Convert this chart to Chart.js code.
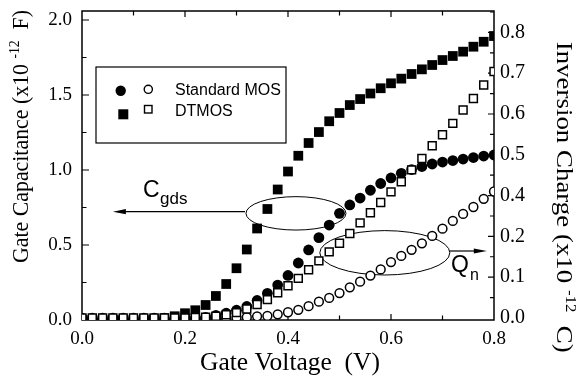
<!DOCTYPE html>
<html>
<head>
<meta charset="utf-8">
<script src="https://cdn.jsdelivr.net/npm/chart.js@4.4.1/dist/chart.umd.min.js"></script>
<style>
  html, body { margin: 0; padding: 0; background: #fff; }
</style>
</head>
<body>
<canvas id="chart" width="584" height="378"></canvas>
<script>
// gate voltage (V), one point every 20 mV
const gateVoltage = [0.00, 0.02, 0.04, 0.06, 0.08, 0.10, 0.12, 0.14, 0.16, 0.18,
  0.20, 0.22, 0.24, 0.26, 0.28, 0.30, 0.32, 0.34, 0.36, 0.38,
  0.40, 0.42, 0.44, 0.46, 0.48, 0.50, 0.52, 0.54, 0.56, 0.58,
  0.60, 0.62, 0.64, 0.66, 0.68, 0.70, 0.72, 0.74, 0.76, 0.78, 0.80];

// gate capacitance C_gds (x10^-12 F), left axis
const cgdsStandard = [0, 0, 0, 0, 0, 0, 0, 0, 0, 0.003,
  0.005, 0.01, 0.018, 0.03, 0.045, 0.065, 0.09, 0.13, 0.178, 0.233,
  0.297, 0.38, 0.467, 0.549, 0.633, 0.711, 0.767, 0.813, 0.865, 0.91,
  0.947, 0.978, 1.003, 1.023, 1.04, 1.053, 1.063, 1.073, 1.083, 1.093, 1.10];
const cgdsDTMOS = [0, 0, 0, 0, 0, 0, 0.002, 0.005, 0.012, 0.025,
  0.045, 0.065, 0.10, 0.16, 0.24, 0.345, 0.47, 0.61, 0.74, 0.87,
  0.99, 1.095, 1.18, 1.253, 1.325, 1.38, 1.433, 1.473, 1.51, 1.545,
  1.578, 1.609, 1.64, 1.671, 1.70, 1.733, 1.76, 1.789, 1.822, 1.855, 1.893];

// inversion charge Q_n, right axis; read as 0.1 per tick spacing
// (the printed right axis skips the 0.3 label)
const qnStandard = [0, 0, 0, 0, 0, 0, 0, 0, 0, 0,
  0, 0, 0, 0, 0, 0.001, 0.002, 0.004, 0.005, 0.009,
  0.014, 0.02, 0.029, 0.04, 0.049, 0.061, 0.075, 0.089, 0.104, 0.119,
  0.137, 0.152, 0.167, 0.183, 0.201, 0.219, 0.238, 0.255, 0.272, 0.292, 0.31];
const qnDTMOS = [0, 0, 0, 0, 0, 0, 0, 0, 0, 0,
  0, 0.001, 0.002, 0.004, 0.008, 0.013, 0.022, 0.033, 0.045, 0.062,
  0.079, 0.097, 0.118, 0.14, 0.162, 0.183, 0.207, 0.233, 0.258, 0.283,
  0.309, 0.334, 0.363, 0.391, 0.422, 0.449, 0.477, 0.51, 0.538, 0.571, 0.604];

const voltTicks = [0, 0.2, 0.4, 0.6, 0.8];
const capTicks = [0, 0.5, 1.0, 1.5, 2.0];
const chargeTickLabels = ['0.0', '0.1', '0.2', '0.4', '0.5', '0.6', '0.7', '0.8'];

const SERIF = '"Liberation Serif", "Times New Roman", serif';
const SANS = '"Liberation Sans", Arial, sans-serif';

function pts(ys) {
  return gateVoltage.map((v, i) => ({ x: v, y: ys[i] }));
}

// text drawn along a direction, stretched to a given length
function richText(ctx, parts, x, y, angle, length) {
  ctx.save();
  ctx.translate(x, y);
  ctx.rotate(angle);
  let w = 0;
  parts.forEach(p => { ctx.font = p.font; p.w = ctx.measureText(p.text).width; w += p.w; });
  ctx.scale(length ? length / w : 1, 1);
  ctx.fillStyle = '#000';
  ctx.textBaseline = 'alphabetic';
  let cx = 0;
  parts.forEach(p => { ctx.font = p.font; ctx.fillText(p.text, cx, -(p.rise || 0)); cx += p.w; });
  ctx.restore();
}

function arrow(ctx, x1, y, x2) {
  const dir = Math.sign(x2 - x1);
  ctx.beginPath();
  ctx.moveTo(x1, y);
  ctx.lineTo(x2 - dir * 10, y);
  ctx.stroke();
  ctx.beginPath();
  ctx.moveTo(x2, y);
  ctx.lineTo(x2 - dir * 13, y - 2.6);
  ctx.lineTo(x2 - dir * 13, y + 2.6);
  ctx.closePath();
  ctx.fill();
}

function noPad(s) {
  s.paddingTop = 0; s.paddingBottom = 0; s.paddingLeft = 0; s.paddingRight = 0;
}

const framePlugin = {
  id: 'frame',
  beforeDatasetsDraw(chart) {
    const { ctx, chartArea: a, scales: { x, y, q } } = chart;
    ctx.save();
    ctx.strokeStyle = '#000';
    ctx.fillStyle = '#000';
    ctx.lineWidth = 1.5;
    ctx.strokeRect(a.left, a.top, a.right - a.left, a.bottom - a.top);

    // inward ticks
    ctx.lineWidth = 1.2;
    ctx.beginPath();
    for (let k = 1; k < 8; k++) {
      const px = x.getPixelForValue(k * 0.1);
      const len = k % 2 === 0 ? 6 : 4.5;
      ctx.moveTo(px, a.bottom); ctx.lineTo(px, a.bottom - len);
      ctx.moveTo(px, a.top); ctx.lineTo(px, a.top + len);
    }
    for (let k = 1; k <= 8; k++) {
      const py = y.getPixelForValue(k * 0.25);
      const len = k % 2 === 0 ? 7 : 4.5;
      ctx.moveTo(a.left, py); ctx.lineTo(a.left + len, py);
    }
    for (let k = 1; k <= 15; k++) {
      const py = q.getPixelForValue(k * 0.05);
      const len = k % 2 === 0 ? 6 : 4;
      ctx.moveTo(a.right, py); ctx.lineTo(a.right - len, py);
    }
    ctx.stroke();

    // ellipses and arrows
    const P = (v, c) => [x.getPixelForValue(v), y.getPixelForValue(c)];
    ctx.lineWidth = 1;
    const e1 = P(0.4155, 0.711);
    ctx.beginPath();
    ctx.ellipse(e1[0], e1[1], 50, 16.7, 0, 0, Math.PI * 2);
    ctx.stroke();
    const e2 = P(0.588, 0.448);
    ctx.beginPath();
    ctx.ellipse(e2[0], e2[1], 65, 22.2, 0, 0, Math.PI * 2);
    ctx.stroke();

    ctx.lineWidth = 1.2;
    const a1s = P(0.3165, 0.722), a1e = P(0.060, 0.722);
    arrow(ctx, a1s[0], a1s[1], a1e[0]);
    const a2s = P(0.714, 0.46), a2e = P(0.786, 0.46);
    arrow(ctx, a2s[0], a2s[1], a2e[0]);
    ctx.restore();
  },
  afterDraw(chart) {
    const { ctx, scales: { x, y } } = chart;
    const P = (v, c) => [x.getPixelForValue(v), y.getPixelForValue(c)];
    ctx.save();
    ctx.fillStyle = '#000';
    ctx.strokeStyle = '#000';

    // annotation labels
    ctx.textBaseline = 'alphabetic';
    const c = P(0.1184, 0.82);
    ctx.font = '23px ' + SANS;
    ctx.fillText('C', c[0], c[1]);
    const cw = ctx.measureText('C').width;
    ctx.font = '17px ' + SANS;
    ctx.fillText('gds', c[0] + cw + 0.5, c[1] + 7);
    const qp = P(0.7165, 0.317);
    ctx.font = '23px ' + SANS;
    ctx.fillText('Q', qp[0], qp[1]);
    const qw = ctx.measureText('Q').width;
    ctx.font = '16px ' + SANS;
    ctx.fillText('n', qp[0] + qw + 1, qp[1] + 7.5);

    // legend
    ctx.lineWidth = 1.2;
    ctx.strokeRect(96, 67, 190, 76);
    ctx.beginPath(); ctx.arc(120.7, 90.7, 5.2, 0, Math.PI * 2); ctx.fill();
    ctx.lineWidth = 1.4;
    ctx.beginPath(); ctx.arc(148.3, 89.3, 4.1, 0, Math.PI * 2); ctx.stroke();
    ctx.fillRect(118.3, 109.3, 10, 10);
    ctx.strokeRect(144.5, 105.5, 7.5, 7.5);
    ctx.font = '16px ' + SANS;
    ctx.fillText('Standard MOS', 175, 94.5);
    ctx.fillText('DTMOS', 175, 116);
    ctx.restore();

    // axis titles
    richText(ctx, [
      { text: 'Gate Capacitance (x10 ', font: '24px ' + SERIF },
      { text: '-12', font: '15px ' + SERIF, rise: 9 },
      { text: '  F)', font: '24px ' + SERIF }
    ], 27.5, 263, -Math.PI / 2, 253);
    richText(ctx, [
      { text: 'Inversion Charge (x10 ', font: '24px ' + SERIF },
      { text: '-12', font: '15px ' + SERIF, rise: 9 },
      { text: '  C)', font: '24px ' + SERIF }
    ], 556.5, 41.7, Math.PI / 2, 311);
    richText(ctx, [
      { text: 'Gate Voltage  (V)', font: '25px ' + SERIF }
    ], 200, 370, 0, 180);
  }
};

const tickFont = { family: SERIF, size: 19 };

new Chart(document.getElementById('chart'), {
  type: 'scatter',
  data: {
    datasets: [
      {
        label: 'DTMOS Qn', data: pts(qnDTMOS), yAxisID: 'q',
        pointStyle: 'rect', pointRadius: 5.6, borderWidth: 1.5,
        borderColor: '#000', backgroundColor: '#fff'
      },
      {
        label: 'Standard MOS Qn', data: pts(qnStandard), yAxisID: 'q',
        pointStyle: 'circle', pointRadius: 4.4, borderWidth: 1.5,
        borderColor: '#000', backgroundColor: '#fff'
      },
      {
        label: 'Standard MOS Cgds', data: pts(cgdsStandard), yAxisID: 'y',
        pointStyle: 'circle', pointRadius: 5.4, borderWidth: 0,
        borderColor: '#000', backgroundColor: '#000'
      },
      {
        label: 'DTMOS Cgds', data: pts(cgdsDTMOS), yAxisID: 'y',
        pointStyle: 'rect', pointRadius: 6.9, borderWidth: 0,
        borderColor: '#000', backgroundColor: '#000'
      }
    ]
  },
  options: {
    responsive: false,
    animation: false,
    devicePixelRatio: 1,
    layout: { padding: { top: 11, left: 0, right: 0, bottom: 0 } },
    plugins: { legend: { display: false }, tooltip: { enabled: false } },
    scales: {
      x: {
        type: 'linear', position: 'bottom', min: 0, max: 0.8,
        grid: { display: false, drawTicks: false }, border: { display: false },
        afterBuildTicks: s => { s.ticks = voltTicks.map(v => ({ value: v })); },
        afterFit: s => { s.height = 58; noPad(s); },
        ticks: { padding: 8, color: '#000', font: tickFont, maxRotation: 0, autoSkip: false,
          callback: v => v.toFixed(1) }
      },
      y: {
        type: 'linear', position: 'left', min: 0, max: 2.06,
        grid: { display: false, drawTicks: false }, border: { display: false },
        afterBuildTicks: s => { s.ticks = capTicks.map(v => ({ value: v })); },
        afterFit: s => { s.width = 82; noPad(s); },
        ticks: { padding: 10, color: '#000', font: tickFont, autoSkip: false,
          callback: v => v.toFixed(1) }
      },
      q: {
        type: 'linear', position: 'right', min: -0.005, max: 0.7525,
        grid: { display: false, drawTicks: false }, border: { display: false },
        afterBuildTicks: s => { s.ticks = chargeTickLabels.map((t, i) => ({ value: i * 0.1 })); },
        afterFit: s => { s.width = 90; noPad(s); },
        ticks: { padding: 6, color: '#000', font: { family: SERIF, size: 20 }, autoSkip: false,
          callback: (v, i) => chargeTickLabels[i] }
      }
    }
  },
  plugins: [framePlugin]
});
</script>
</body>
</html>
